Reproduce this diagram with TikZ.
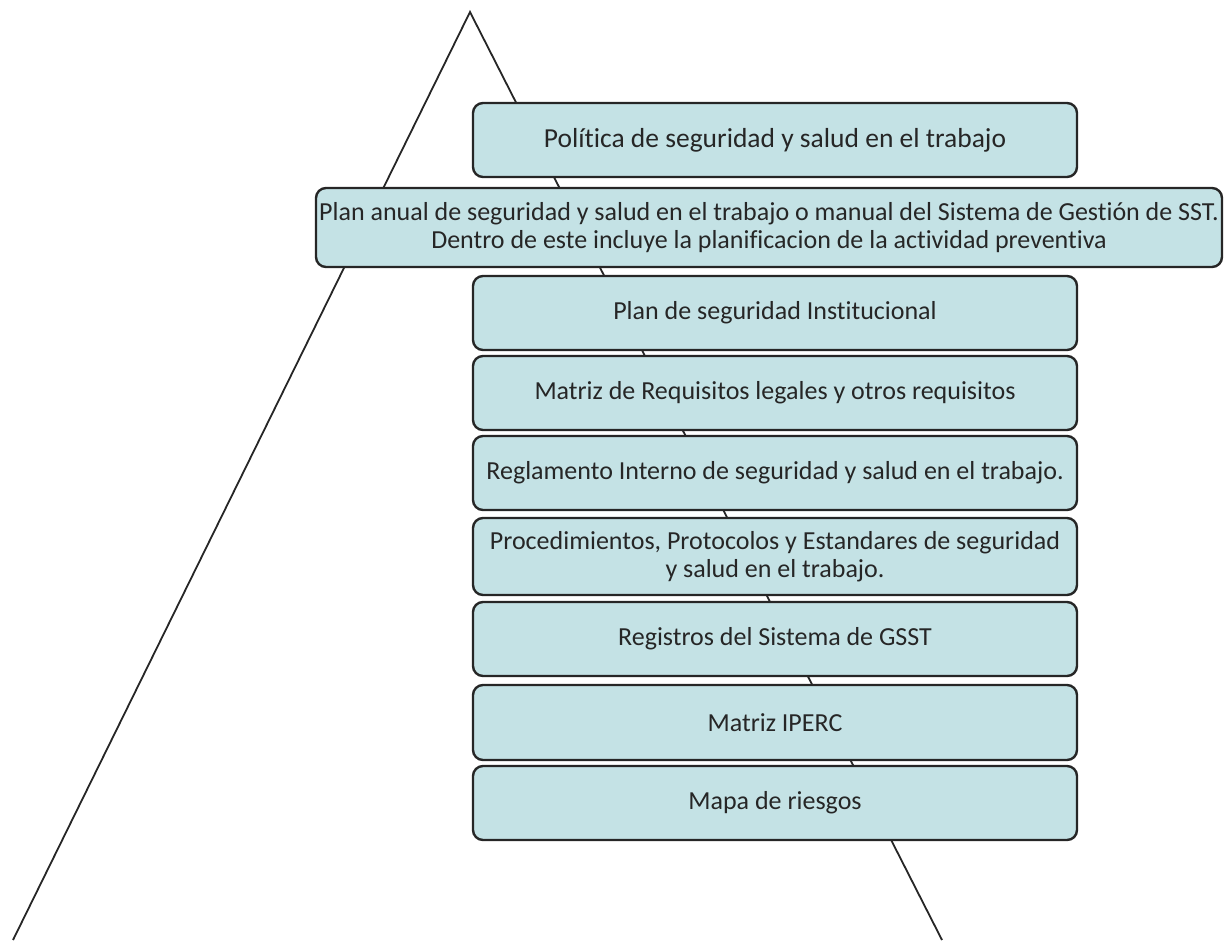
\documentclass[tikz,border=0pt]{standalone}
\usepackage{fontspec}
\setmainfont[Ligatures=NoCommon]{Carlito}
\definecolor{boxfill}{HTML}{C4E2E5}
\definecolor{txt}{HTML}{262626}
\begin{document}
\begin{tikzpicture}[x=1pt,y=-1pt,
  level/.style={draw=black!85, line width=2.4pt, rounded corners=10pt, fill=boxfill,
    minimum width=604pt, minimum height=74pt, align=center, inner sep=2pt,
    font=\fontsize{26}{27.5}\selectfont, text=txt},
  edge/.style={line width=1.8pt, draw=black!85}]
\useasboundingbox (0,0) rectangle (1225,940);
\coordinate (apex) at (470,12);
\coordinate (bl) at (13,940);
\coordinate (br) at (942,940);
\draw[edge] (bl) -- (apex) -- (br);
\node[level, font=\fontsize{27.5}{28}\selectfont] (n1) at (775,140) {Política de seguridad y salud en el trabajo};
\node[level, minimum width=906pt, minimum height=79pt] (n2) at (769,227.5) {Plan anual de seguridad y salud en el trabajo o manual del Sistema de Gestión de SST.\\Dentro de este incluye la planificacion de la actividad preventiva};
\node[level] (n3) at (775,313) {Plan de seguridad Institucional};
\node[level] (n4) at (775,393) {Matriz de Requisitos legales y otros requisitos};
\node[level] (n5) at (775,473) {Reglamento Interno de seguridad y salud en el trabajo.};
\node[level, minimum height=77pt] (n6) at (775,556.5) {Procedimientos, Protocolos y Estandares de seguridad\\y salud en el trabajo.};
\node[level] (n7) at (775,639) {Registros del Sistema de GSST};
\node[level, minimum height=75pt] (n8) at (775,722.5) {Matriz IPERC};
\node[level] (n9) at (775,803) {Mapa de riesgos};
\end{tikzpicture}
\end{document}
